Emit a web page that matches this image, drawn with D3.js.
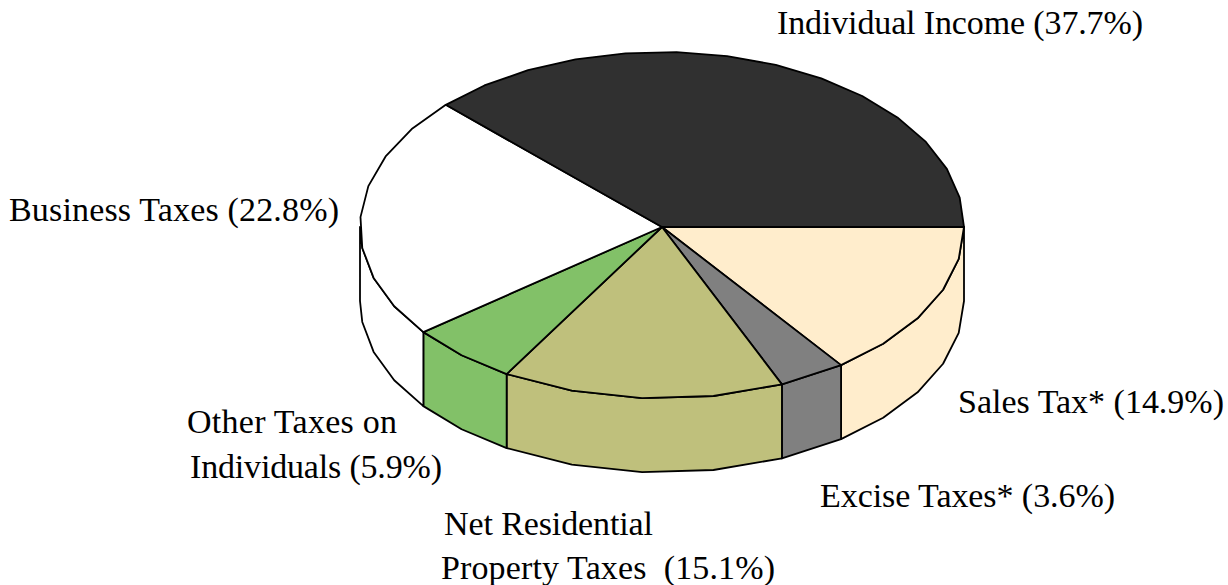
<!DOCTYPE html>
<html>
<head>
<meta charset="utf-8">
<title>Tax revenue shares</title>
<script src="https://cdn.jsdelivr.net/npm/d3@7/dist/d3.min.js"></script>
<style>
  html, body { margin: 0; padding: 0; background: #fff; }
  svg { display: block; }
  .label { font-family: "Liberation Serif", serif; font-size: 34px; fill: #000; white-space: pre; }
</style>
</head>
<body>
<div id="pie"></div>
<script>
/**
 * Vars
 */
var categories = ['Sales Tax*', 'Excise Taxes*', 'Net Residential Property Taxes', 'Other Taxes on Individuals', 'Business Taxes', 'Individual Income'];
var shares = [14.9, 3.6, 15.1, 5.9, 22.8, 37.7];
var colors = ['#ffedcc', '#808080', '#bfc07c', '#82c168', '#ffffff', '#303030'];
// the outline of each slice is a coarse polygon, not a true arc
var edgeCounts = [5, 1, 4, 2, 8, 14];
var labelLines = [
  'Sales Tax* (14.9%)',
  'Excise Taxes* (3.6%)',
  'Net Residential',
  'Property Taxes  (15.1%)',
  'Other Taxes on',
  'Individuals (5.9%)',
  'Business Taxes (22.8%)',
  'Individual Income (37.7%)'
];
// x, baseline y and drawn width of each label line
var labelBoxes = [
  [958, 413, 266],
  [820, 507, 295],
  [444, 535, 209],
  [441, 579, 334],
  [187, 433, 210],
  [190, 478, 252],
  [9, 221, 330],
  [777, 34, 366]
];

var width = 1228,
    height = 585,
    cx = 662,
    cy = 227,
    rx = 302,
    ryBack = 175,   // the far half is drawn a little taller than the near half
    ryFront = 171.5,
    depth = 74;

var svg = d3.select('#pie').append('svg')
  .attr('width', width)
  .attr('height', height);

// Angles run clockwise from 3 o'clock once the quarter turn is removed
var pie = d3.pie().sort(null).startAngle(Math.PI / 2).endAngle(Math.PI * 2.5);
var slices = pie(shares).map(function(d, i) {
  var a0 = d.startAngle - Math.PI / 2,
      a1 = d.endAngle - Math.PI / 2;
  return {
    index: i,
    name: categories[i],
    a0: a0,
    a1: a1,
    angles: d3.range(edgeCounts[i] + 1).map(function(k) {
      return a0 + (a1 - a0) * k / edgeCounts[i];
    })
  };
});

var project = function(a, drop) {
  var s = Math.sin(a);
  return [cx + rx * Math.cos(a), cy + (s > 0 ? ryFront : ryBack) * s + (drop || 0)];
};

var line = d3.line();

/**
 * Side walls (only the near half shows)
 */
var walls = svg.append('g').attr('class', 'walls');

slices.filter(function(d) { return d.a0 < Math.PI; }).forEach(function(d) {
  var visible = d.angles.filter(function(a) { return a < Math.PI; });
  if (d.a1 > Math.PI) visible.push(Math.PI);
  var top = visible.map(function(a) { return project(a, 0); });
  var bottom = visible.map(function(a) { return project(a, depth); }).reverse();
  walls.append('path')
    .attr('d', line(top.concat(bottom)) + 'Z')
    .attr('fill', colors[d.index])
    .attr('stroke', '#000')
    .attr('stroke-width', 1.8)
    .attr('stroke-linejoin', 'round');
});

/**
 * Top faces
 */
svg.append('g').attr('class', 'faces')
  .selectAll('path')
  .data(slices)
  .enter().append('path')
    .attr('d', function(d) {
      var pts = d.angles.map(function(a) { return project(a, 0); });
      return line([[cx, cy]].concat(pts)) + 'Z';
    })
    .attr('fill', function(d) { return colors[d.index]; })
    .attr('stroke', '#000')
    .attr('stroke-width', 1.8)
    .attr('stroke-linejoin', 'round');

/**
 * Labels
 */
svg.append('g').attr('class', 'labels')
  .selectAll('text')
  .data(labelLines)
  .enter().append('text')
    .attr('class', 'label')
    .attr('x', function(d, i) { return labelBoxes[i][0]; })
    .attr('y', function(d, i) { return labelBoxes[i][1]; })
    .attr('textLength', function(d, i) { return labelBoxes[i][2]; })
    .text(function(d) { return d; });
</script>
</body>
</html>
